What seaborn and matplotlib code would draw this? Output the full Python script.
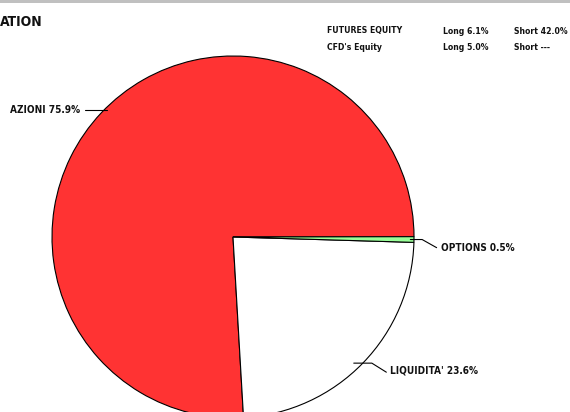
import matplotlib
matplotlib.use("Agg")
import matplotlib.pyplot as plt
import numpy as np
import seaborn as sns

# ── dati ──
labels = ["AZIONI", "LIQUIDITA'", "OPTIONS"]
values = [75.9, 23.6, 0.5]
colors = ["#ff3333", "#ffffff", "#99ff99"]

side_rows = ["FUTURES EQUITY", "CFD's Equity"]
side_long = ["Long 6.1%", "Long 5.0%"]
side_short = ["Short 42.0%", "Short ---"]

title_txt = "ATION"

sns.set_theme(style="white")
FONT = ["Liberation Sans Narrow", "DejaVu Sans"]
plt.rcParams["font.family"] = FONT
plt.rcParams["font.stretch"] = "condensed"

W, H = 570, 412
fig = plt.figure(figsize=(W / 100, H / 100), dpi=100)
fig.patch.set_facecolor("white")

# barra grigia in alto
fig.add_artist(plt.Rectangle((0, 1 - 3 / H), 1, 3 / H, transform=fig.transFigure,
                             color="#c0c0c0", lw=0))

# asse della torta: centro (233, 237) px, raggio 181 px
cx, cy, r = 233, 237, 181
ax = fig.add_axes([(cx - r) / W, (H - cy - r) / H, 2 * r / W, 2 * r / H])
wedges, _ = ax.pie(values, colors=colors, startangle=0.1, counterclock=True,
                   wedgeprops=dict(edgecolor="black", linewidth=0.8))
for w in wedges:
    w.set_clip_on(False)
ax.set_xlim(-1, 1)
ax.set_ylim(-1, 1)
ax.axis("off")

# etichette con linee guida
tkw = dict(fontsize=7.2, fontweight="bold", color="#111111", va="center",
           fontstretch="condensed")
lkw = dict(color="black", lw=0.8, clip_on=False)
for w, lab, v in zip(wedges, labels, values):
    ang = np.deg2rad((w.theta1 + w.theta2) / 2)
    x0, y0 = np.cos(ang), np.sin(ang)
    txt = f"{lab} {v:.1f}%"
    if x0 < 0:
        y0 += 0.015
        ax.plot([x0 + 0.03, -0.82], [y0, y0], **lkw)
        ax.text(-0.845, y0, txt, ha="right", **tkw)
    elif abs(y0) > 0.1:
        ax.plot([x0 - 0.05, x0 + 0.05, x0 + 0.13], [y0, y0, y0 - 0.05], **lkw)
        ax.text(x0 + 0.15, y0 - 0.04, txt, ha="left", **tkw)
    else:
        ax.plot([x0 - 0.02, 1.045, 1.125], [y0, y0, y0 - 0.045], **lkw)
        ax.text(1.147, y0 - 0.045, txt, ha="left", **tkw)

# titolo
fig.text(0, 1 - 22 / H, title_txt, fontsize=10, fontweight="bold",
         color="#111111", ha="left", va="center", fontstretch="condensed")

# tabella in alto a destra
skw = dict(fontsize=6.2, fontweight="bold", color="#111111", va="center",
           fontstretch="condensed")
for i, (a, b, c) in enumerate(zip(side_rows, side_long, side_short)):
    y = 1 - (31 + 16 * i) / H
    fig.text(327 / W, y, a, **skw)
    fig.text(443 / W, y, b, **skw)
    fig.text(514 / W, y, c, **skw)

fig.savefig("out.png", dpi=100)
plt.close()
